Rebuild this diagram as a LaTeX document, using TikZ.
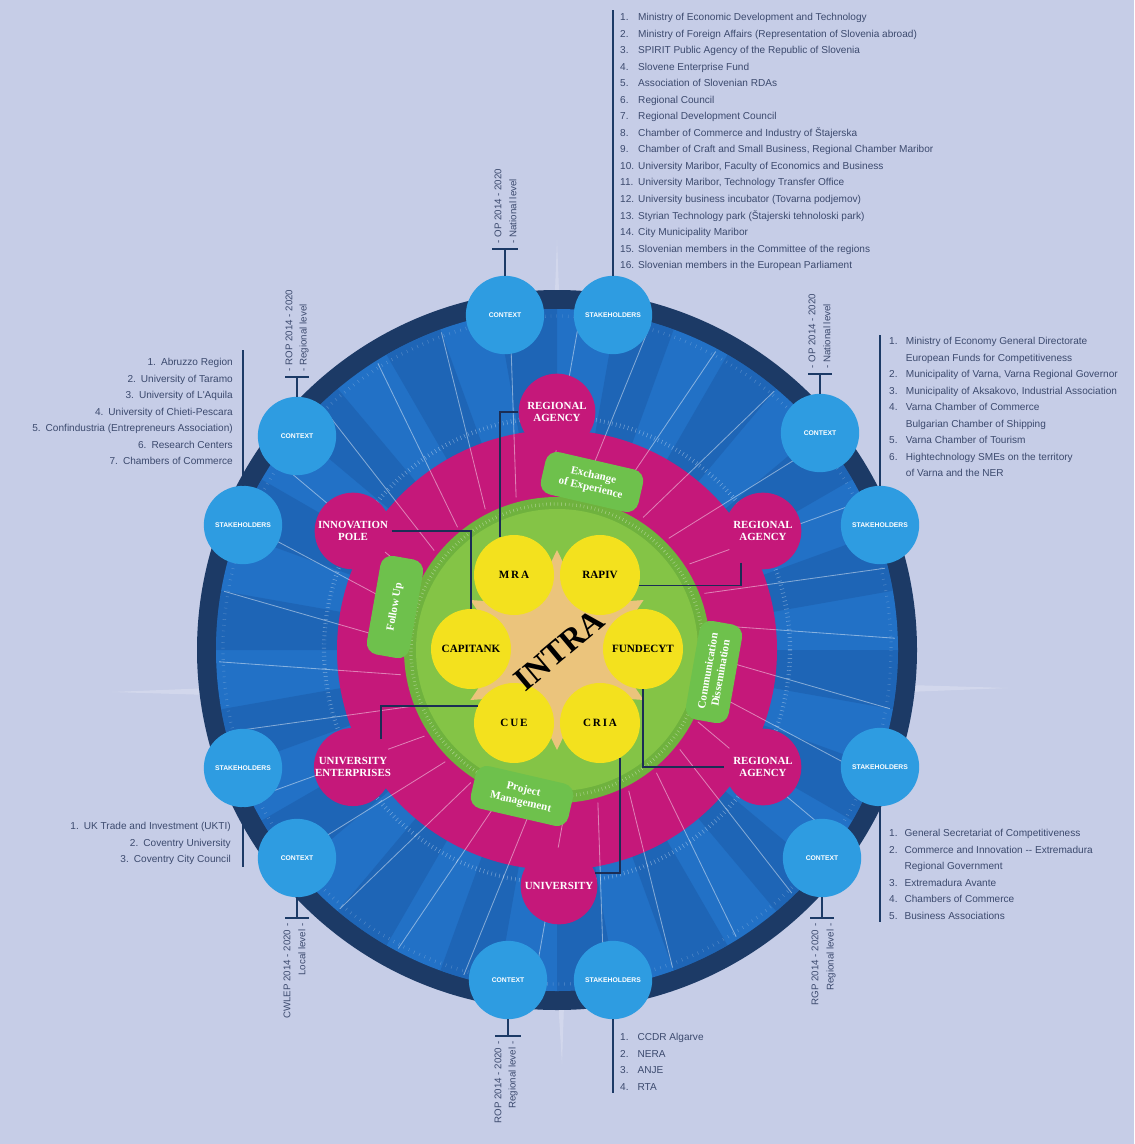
\documentclass[tikz,border=0pt]{standalone}
\usepackage{fontspec}
\setmainfont{Liberation Serif}
\newfontfamily\listfont{Liberation Sans}
\usepackage{tikz}
\usetikzlibrary{shapes.geometric, positioning, calc}
\definecolor{paper}{HTML}{C6CDE7}
\definecolor{navy}{HTML}{1C3A66}
\definecolor{ringblue}{HTML}{2271C6}
\definecolor{ringdark}{HTML}{1A559F}
\definecolor{sky}{HTML}{2E9CE1}
\definecolor{rose}{HTML}{C5187A}
\definecolor{leaf}{HTML}{84C446}
\definecolor{leafdark}{HTML}{6FB23E}
\definecolor{leafbox}{HTML}{6EC14C}
\definecolor{sun}{HTML}{F3E11E}
\definecolor{starfill}{HTML}{EBC47C}
\definecolor{listink}{HTML}{3C4A6E}
\definecolor{wire}{HTML}{1B2D55}
\begin{document}
\begin{tikzpicture}[x=0.3mm, y=-0.3mm,
  partner/.style = {circle, fill=sun, minimum size=24mm, inner sep=0pt,
                    font=\bfseries\fontsize{9.5}{10}\selectfont},
  agency/.style  = {circle, fill=rose, minimum size=23mm, inner sep=0pt, align=center,
                    text=white, font=\bfseries\fontsize{9.3}{10.5}\selectfont},
  outerdot/.style= {circle, fill=sky, minimum size=23.5mm, inner sep=0pt, text=white,
                    font=\listfont\bfseries\fontsize{5.8}{6}\selectfont},
  topic/.style   = {rounded corners=3.5mm, fill=leafbox, text=white, align=center,
                    inner sep=1.5mm, minimum width=30mm, minimum height=13mm,
                    font=\bfseries\fontsize{9.5}{11}\selectfont},
  link/.style    = {draw=wire, line width=0.45mm},
  bar/.style     = {draw=navy, line width=0.6mm},
  plan/.style    = {rotate=90, inner sep=0pt, text=listink, font=\listfont\fontsize{8.3}{9}\selectfont},
  stake/.style   = {inner sep=0pt, text=listink, font=\listfont\fontsize{8.6}{14.1}\selectfont},
  ray/.style     = {draw=white, opacity=.45, line width=0.25mm}]

  \useasboundingbox (0,0) rectangle (1134,1144);
  \fill[paper] (0,0) rectangle (1134,1144);
  \coordinate (c) at (557,650);

  % faint compass behind the wheel
  \fill[white, opacity=.22] (112,692) -- (540,675) -- (557,240) -- (574,675) -- (1008,688)
    -- (574,705) -- (562,1064) -- (540,705) -- cycle;

  % rings
  \fill[navy] (c) circle (360);
  \fill[ringblue] (c) circle (341);
  \foreach \a in {0,20,...,340}
    \fill[ringdark, opacity=.4] (c) -- ($(c)+(\a:341)$) arc[start angle=\a, end angle=\a+10, radius=341] -- cycle;
  \draw[white, opacity=.45, line width=1.3mm, dash pattern=on .35pt off 1.1mm] (c) circle (233);
  \draw[white, opacity=.25, line width=1mm, dash pattern=on .35pt off 1.6mm] (c) circle (334);
  \fill[rose] (c) circle (220);
  \foreach \a in {0,12,...,348}
    \draw[ray] ($(c)+(\a+3:158)$) -- ($(c)+(\a+10:338)$);
  \fill[leafdark] (c) circle (153);
  \fill[leaf] (c) circle (141);
  \draw[white, opacity=.45, line width=1mm, dash pattern=on .35pt off 1mm] (c) circle (146);

  \node[star, star points=6, star point ratio=1.9, fill=starfill,
        minimum size=60mm, inner sep=0pt] at (c) {};

  % partners
  \node[partner] (mra)   at (514,575) {M\,R\,A};
  \node[partner] (rapiv) at (600,575) {RAPIV};
  \node[partner] (cap)   at (471,649) {CAPITANK};
  \node[partner] (fun)   at (643,649) {FUNDECYT};
  \node[partner] (cue)   at (514,723) {C\,U\,E};
  \node[partner] (cria)  at (600,723) {C\,R\,I\,A};
  \node[rotate=40, inner sep=0pt, font=\bfseries\fontsize{28}{28}\selectfont] (intra) at (559,650) {INTRA};

  % regional actors
  \node[agency] (ra1) at (557,412) {REGIONAL\\AGENCY};
  \node[agency] (ip)  at (353,531) {INNOVATION\\POLE};
  \node[agency] (ra2) at (763,531) {REGIONAL\\AGENCY};
  \node[agency] (ue)  at (353,767) {UNIVERSITY\\ENTERPRISES};
  \node[agency] (ra3) at (763,767) {REGIONAL\\AGENCY};
  \node[agency] (uni) at (559,886) {UNIVERSITY};

  \draw[link] (ra1.west) -| (mra.110);
  \draw[link] (ip.east) -| (cap.north);
  \draw[link] (ra2.235) |- (rapiv.-15);
  \draw[link] (ue.45) |- (cue.155);
  \draw[link] (fun.south) |- (ra3.west);
  \draw[link] (cria.-60) |- (uni.20);

  % activities
  \node[topic, rotate=-13] (exch) at (592,482) {Exchange\\of Experience};
  \node[topic, rotate=80]  (foll) at (395,607) {Follow Up};
  \node[topic, rotate=80]  (comm) at (714,672) {Communication\\Dissemination};
  \node[topic, rotate=-13] (proj) at (522,796) {Project\\Management};

  % context and stakeholders
  \node[outerdot] (ctx1) at (505,315) {CONTEXT};
  \node[outerdot] (stk1) at (613,315) {STAKEHOLDERS};
  \node[outerdot] (ctx2) at (297,436) {CONTEXT};
  \node[outerdot] (stk2) at (243,525) {STAKEHOLDERS};
  \node[outerdot] (ctx3) at (820,433) {CONTEXT};
  \node[outerdot] (stk3) at (880,525) {STAKEHOLDERS};
  \node[outerdot] (stk4) at (243,768) {STAKEHOLDERS};
  \node[outerdot] (ctx4) at (297,858) {CONTEXT};
  \node[outerdot] (stk5) at (880,767) {STAKEHOLDERS};
  \node[outerdot] (ctx5) at (822,858) {CONTEXT};
  \node[outerdot] (ctx6) at (508,980) {CONTEXT};
  \node[outerdot] (stk6) at (613,980) {STAKEHOLDERS};

  % programme levels
  \draw[bar] (ctx1.north) -- ++(0,-27) coordinate (t1);
  \draw[bar] ($(t1)+(-13,0)$) -- ($(t1)+(13,0)$);
  \node[plan, anchor=west] at ($(t1)+(-7,-5)$) {- OP 2014 - 2020};
  \node[plan, anchor=west] at ($(t1)+(8,-5)$) {- National level};

  \draw[bar] (ctx2.north) -- ++(0,-20) coordinate (t2);
  \draw[bar] ($(t2)+(-12,0)$) -- ($(t2)+(12,0)$);
  \node[plan, anchor=west] at ($(t2)+(-8,-5)$) {- ROP 2014 - 2020};
  \node[plan, anchor=west] at ($(t2)+(7,-5)$) {- Regional level};

  \draw[bar] (ctx3.north) -- ++(0,-20) coordinate (t3);
  \draw[bar] ($(t3)+(-12,0)$) -- ($(t3)+(12,0)$);
  \node[plan, anchor=west] at ($(t3)+(-8,-5)$) {- OP 2014 - 2020};
  \node[plan, anchor=west] at ($(t3)+(7,-5)$) {- National level};

  \draw[bar] (ctx4.south) -- ++(0,21) coordinate (t4);
  \draw[bar] ($(t4)+(-12,0)$) -- ($(t4)+(12,0)$);
  \node[plan, anchor=east] at ($(t4)+(-10,5)$) {CWLEP 2014 - 2020 -};
  \node[plan, anchor=east] at ($(t4)+(5,5)$) {Local level -};

  \draw[bar] (ctx5.south) -- ++(0,21) coordinate (t5);
  \draw[bar] ($(t5)+(-12,0)$) -- ($(t5)+(12,0)$);
  \node[plan, anchor=east] at ($(t5)+(-7,5)$) {RGP 2014 - 2020 -};
  \node[plan, anchor=east] at ($(t5)+(9,5)$) {Regional level -};

  \draw[bar] (ctx6.south) -- ++(0,17) coordinate (t6);
  \draw[bar] ($(t6)+(-13,0)$) -- ($(t6)+(13,0)$);
  \node[plan, anchor=east] at ($(t6)+(-10,5)$) {ROP 2014 - 2020 -};
  \node[plan, anchor=east] at ($(t6)+(5,5)$) {Regional level -};

  % stakeholder lists
  \draw[bar] (stk1.north) -- (stk1.north |- 0,10);
  \node[stake, anchor=north west] (list1) at (620,9) {\begin{tabular}{@{}p{5.4mm}@{}l@{}}
    1. & Ministry of Economic Development and Technology\\
    2. & Ministry of Foreign Affairs (Representation of Slovenia abroad)\\
    3. & SPIRIT Public Agency of the Republic of Slovenia\\
    4. & Slovene Enterprise Fund\\
    5. & Association of Slovenian RDAs\\
    6. & Regional Council\\
    7. & Regional Development Council\\
    8. & Chamber of Commerce and Industry of Štajerska\\
    9. & Chamber of Craft and Small Business, Regional Chamber Maribor\\
    10. & University Maribor, Faculty of Economics and Business\\
    11. & University Maribor, Technology Transfer Office\\
    12. & University business incubator (Tovarna podjemov)\\
    13. & Styrian Technology park (Štajerski tehnoloski park)\\
    14. & City Municipality Maribor\\
    15. & Slovenian members in the Committee of the regions\\
    16. & Slovenian members in the European Parliament
  \end{tabular}};

  \draw[bar] (stk2.north) -- (stk2.north |- 0,350);
  \node[stake, anchor=north east] (list2) at (233,354) {\begin{tabular}{@{}r@{}}
    1.\enspace Abruzzo Region\\
    2.\enspace University of Taramo\\
    3.\enspace University of L'Aquila\\
    4.\enspace University of Chieti-Pescara\\
    5.\enspace Confindustria (Entrepreneurs Association)\\
    6.\enspace Research Centers\\
    7.\enspace Chambers of Commerce
  \end{tabular}};

  \draw[bar] (stk3.north) -- (stk3.north |- 0,335);
  \node[stake, anchor=north west] (list3) at (889,333) {\begin{tabular}{@{}p{5mm}@{}l@{}}
    1. & Ministry of Economy General Directorate\\
       & European Funds for Competitiveness\\
    2. & Municipality of Varna, Varna Regional Governor\\
    3. & Municipality of Aksakovo, Industrial Association\\
    4. & Varna Chamber of Commerce\\
       & Bulgarian Chamber of Shipping\\
    5. & Varna Chamber of Tourism\\
    6. & Hightechnology SMEs on the territory\\
       & of Varna and the NER
  \end{tabular}};

  \draw[bar] (stk4.south) -- ++(0,60);
  \node[stake, anchor=north east] (list4) at (231,818) {\begin{tabular}{@{}r@{}}
    1.\enspace UK Trade and Investment (UKTI)\\
    2.\enspace Coventry University\\
    3.\enspace Coventry City Council
  \end{tabular}};

  \draw[bar] (stk5.south) -- ++(0,116);
  \node[stake, anchor=north west] (list5) at (889,825) {\begin{tabular}{@{}p{4.6mm}@{}l@{}}
    1. & General Secretariat of Competitiveness\\
    2. & Commerce and Innovation -- Extremadura\\
       & Regional Government\\
    3. & Extremadura Avante\\
    4. & Chambers of Commerce\\
    5. & Business Associations
  \end{tabular}};

  \draw[bar] (stk6.south) -- ++(0,74);
  \node[stake, anchor=north west] (list6) at (620,1029) {\begin{tabular}{@{}p{5.2mm}@{}l@{}}
    1. & CCDR Algarve\\
    2. & NERA\\
    3. & ANJE\\
    4. & RTA
  \end{tabular}};
\end{tikzpicture}
\end{document}
